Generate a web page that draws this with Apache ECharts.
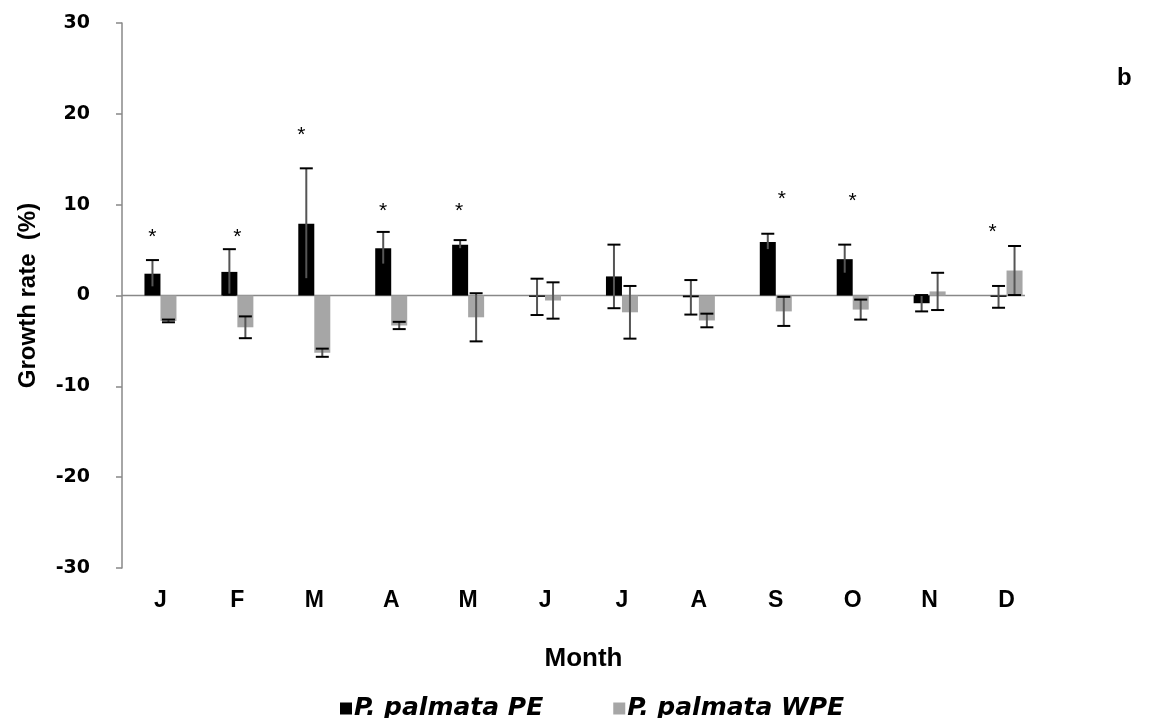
<!DOCTYPE html>
<html>
<head>
<meta charset="utf-8">
<script src="https://cdn.jsdelivr.net/npm/echarts@6/dist/echarts.min.js"></script>
<style>
html,body{margin:0;padding:0;background:#fff;}
#chart{width:1168px;height:718px;}
</style>
</head>
<body>
<div id="chart"></div>
<script>
// ---- data ----
const months = ['J','F','M','A','M','J','J','A','S','O','N','D'];
const pePE   = [2.4, 2.6, 7.9, 5.2, 5.6, -0.15, 2.1, -0.2, 5.9, 4.0, -0.85, -0.15];
const peErr  = [1.5, 2.5, 6.1, 1.8, 0.5, 2.0, 3.5, 1.9, 0.9, 1.6, 0.9, 1.2];
const wpe    = [-2.8, -3.5, -6.3, -3.3, -2.4, -0.55, -1.85, -2.75, -1.75, -1.55, 0.45, 2.75];
const wpeErr = [0.15, 1.2, 0.45, 0.4, 2.65, 2.0, 2.9, 0.75, 1.6, 1.1, 2.05, 2.7];
const sigY   = [7.0, 7.0, 18.2, 9.8, 9.8, null, null, null, 11.1, 10.9, null, 7.5];
const yTicks = {min: -30, max: 30, interval: 10};

// ---- style ----
const BAR_W = 16;
const sigOffset = [-8, 0, -13, -8, -9, 0, 0, 0, 6, 0, 0, -14];
const FONT = 'Liberation Sans, Arial, sans-serif';
const WIDE = 'DejaVu Sans, Verdana, sans-serif';

const chart = echarts.init(document.getElementById('chart'));

function errSeries(vals, errs, off, stemColor) {
  return {
    type: 'custom',
    z: 5,
    silent: true,
    data: vals.map((v, i) => [i, v, errs[i]]),
    renderItem: function (params, api) {
      const idx = api.value(0), v = api.value(1), e = api.value(2);
      const x = api.coord([idx, 0])[0] + off;
      const yt = api.coord([idx, v + e])[1];
      const yb = api.coord([idx, v - e])[1];
      const cap = 6.5;
      return {
        type: 'group',
        children: [
          {type: 'line', shape: {x1: x, y1: yt, x2: x, y2: yb}, style: {stroke: stemColor, lineWidth: 2}},
          {type: 'line', shape: {x1: x - cap, y1: yt, x2: x + cap, y2: yt}, style: {stroke: '#000', lineWidth: 2}},
          {type: 'line', shape: {x1: x - cap, y1: yb, x2: x + cap, y2: yb}, style: {stroke: '#000', lineWidth: 2}}
        ]
      };
    }
  };
}

const option = {
  animation: false,
  backgroundColor: '#fff',
  title: {
    text: 'b', left: 1112, top: 61,
    textStyle: {fontFamily: FONT, fontWeight: 'bold', fontSize: 24, color: '#000'}
  },
  grid: {left: 122, right: 123, top: 23, bottom: 150, containLabel: false},
  legend: {
    data: ['P. palmata PE', 'P. palmata WPE'],
    left: 335, top: 691,
    itemWidth: 12, itemHeight: 12, itemGap: 70,
    icon: 'rect',
    textStyle: {fontFamily: WIDE, fontWeight: 'bold', fontStyle: 'italic', fontSize: 25, color: '#000', padding: [0,0,0,-3]}
  },
  xAxis: {
    type: 'category',
    data: months,
    name: 'Month',
    nameLocation: 'middle',
    nameGap: 78,
    nameTextStyle: {fontFamily: FONT, fontWeight: 'bold', fontSize: 26, color: '#000'},
    axisLine: {show: false, onZero: false},
    axisTick: {show: false},
    axisLabel: {fontFamily: FONT, fontWeight: 'bold', fontSize: 23, color: '#000', margin: 21},
    splitLine: {show: false}
  },
  yAxis: {
    type: 'value',
    min: yTicks.min, max: yTicks.max, interval: yTicks.interval,
    name: 'Growth rate  (%)',
    nameLocation: 'middle',
    nameGap: 82,
    nameRotate: 90,
    nameTextStyle: {fontFamily: FONT, fontWeight: 'bold', fontSize: 24, color: '#000'},
    axisLine: {show: true, lineStyle: {color: '#888', width: 1.5}},
    axisTick: {show: true, length: 6, inside: false, lineStyle: {color: '#888', width: 1.5}},
    axisLabel: {fontFamily: WIDE, fontWeight: 'bold', fontSize: 19, color: '#000', margin: 32},
    splitLine: {show: false}
  },
  series: [
    {
      name: 'P. palmata PE',
      type: 'bar',
      data: pePE,
      barWidth: BAR_W,
      barGap: '0%',
      itemStyle: {color: '#000'}
    },
    {
      name: 'P. palmata WPE',
      type: 'bar',
      data: wpe,
      barWidth: BAR_W,
      barGap: '0%',
      itemStyle: {color: '#a6a6a6'}
    },
    {
      // zero line (category axis at y = 0)
      type: 'custom',
      z: 1,
      silent: true,
      data: [[0, 0]],
      renderItem: function (params, api) {
        const band = api.size([1, 0])[0];
        const p0 = api.coord([0, 0]);
        const p1 = api.coord([months.length - 1, 0]);
        return {
          type: 'line',
          shape: {x1: p0[0] - band / 2, y1: p0[1], x2: p1[0] + band * 0.24, y2: p1[1]},
          style: {stroke: '#888', lineWidth: 1.5}
        };
      }
    },
    errSeries(pePE, peErr, -BAR_W / 2, '#555'),
    errSeries(wpe, wpeErr, BAR_W / 2, '#555'),
    {
      type: 'custom',
      z: 6,
      silent: true,
      data: sigY.map((v, i) => [i, v]).filter(d => d[1] !== null),
      renderItem: function (params, api) {
        const idx = api.value(0);
        const p = api.coord([idx, api.value(1)]);
        return {
          type: 'text',
          x: p[0] + sigOffset[idx], y: p[1] + 5,
          style: {text: '*', fontFamily: FONT, fontSize: 21, fill: '#000', align: 'center', verticalAlign: 'middle'}
        };
      }
    }
  ]
};
chart.setOption(option);
</script>
</body>
</html>
